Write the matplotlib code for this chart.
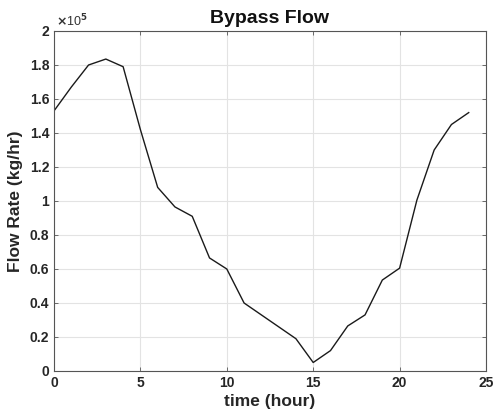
import matplotlib
matplotlib.use("Agg")
import matplotlib.pyplot as plt
from matplotlib.ticker import FuncFormatter, MultipleLocator

hours = list(range(25))
flow = [153000, 167000, 180000, 183500, 179000, 142000, 108000, 96500, 91000,
        66500, 60000, 40000, 33000, 26000, 19000, 5000, 12000, 26500, 33000,
        53500, 60500, 100500, 130000, 145000, 152000]

title = "Bypass Flow"
xlabel = "time (hour)"
ylabel = "Flow Rate (kg/hr)"

plt.rcParams['font.family'] = ['Liberation Sans', 'DejaVu Sans']
plt.rcParams['font.weight'] = 'bold'

fig = plt.figure(figsize=(4.93, 4.16), dpi=100)
ax = fig.add_axes([54/493, 45/416, 432/493, 340/416])
ax.plot(hours, flow, color='#1a1a1a', lw=1.0)
ax.set_xlim(0, 25)
ax.set_ylim(0, 200000)
ax.xaxis.set_major_locator(MultipleLocator(5))
ax.yaxis.set_major_locator(MultipleLocator(20000))
ax.yaxis.set_major_formatter(FuncFormatter(lambda v, p: f"{v/1e5:g}"))
ax.grid(True, color='#e3e3e3', lw=0.8)
ax.set_axisbelow(True)
for s in ax.spines.values():
    s.set_color('#555555')
    s.set_linewidth(0.8)
ax.tick_params(direction='in', top=True, right=True, length=3, width=0.6,
               colors='#555555', labelcolor='#262626', labelsize=10)
for lab in ax.get_xticklabels() + ax.get_yticklabels():
    lab.set_fontweight('bold')
ax.set_title(title, fontsize=14, fontweight='bold', pad=6, color='#111111')
ax.set_xlabel(xlabel, fontsize=12.5, fontweight='bold', labelpad=3, color='#262626')
ax.set_ylabel(ylabel, fontsize=12.5, fontweight='bold', labelpad=5, color='#262626')
ax.text(0.005, 1.005, r"$\times$10$^5$", transform=ax.transAxes, fontsize=9,
        ha='left', va='bottom', color='#333333', fontweight='normal')
fig.savefig("out.png", dpi=100)
